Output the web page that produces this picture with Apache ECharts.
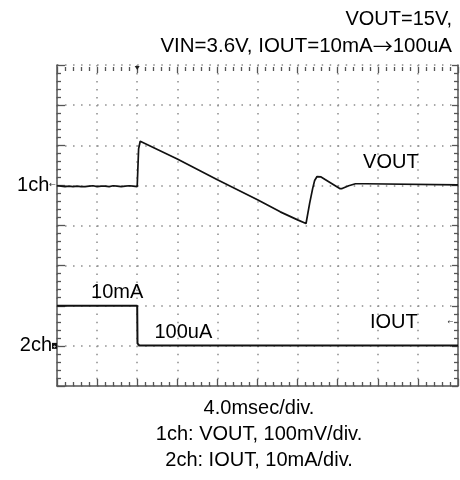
<!DOCTYPE html>
<html>
<head>
<meta charset="utf-8">
<script src="https://cdn.jsdelivr.net/npm/echarts@6/dist/echarts.min.js"></script>
<style>
  html, body { margin: 0; padding: 0; background: #ffffff; }
  #chart { width: 460px; height: 480px; }
</style>
</head>
<body>
<div id="chart"></div>
<script>
// Time axis: msec relative to the load step, 4.0 msec/div, 10 divisions
const timeMin = -8;
const timeMax = 32;
const timeStep = 4;

// 1ch: VOUT deviation from 15 V in mV, 100 mV/div (reference level = 0)
const voutMin = -500;
const voutMax = 300;
const voutStep = 100;

// 2ch: IOUT in mA, 10 mA/div (reference level = 0)
const ioutMin = -10;
const ioutMax = 70;
const ioutStep = 10;

// VOUT trace
const voutTime = [
  -8, -7.6, -7.2, -6.8, -6.4, -6, -5.6, -5.2, -4.8, -4.4, -4,
  -3.6, -3.2, -2.8, -2.4, -2, -1.6, -1.2, -0.8, -0.4, 0,
  0.14, 0.3, 0.44, 4, 8, 12, 14.27, 16, 16.84,
  17.2, 17.5, 17.7, 17.94, 18.34, 20.2, 20.44, 21.1, 21.77, 22.77, 22.94, 32
];
const voutMv = [
  -1, -2, -3, -2, -3, -2, -3, -3, -2, -1, -3,
  -2, -2, -3, -1, -2, -3, -2, -1, -2, -3,
  91, 110, 113, 66, 14, -36, -66, -86, -95,
  -45, -8, 12, 22, 21, -8, -8, -1, 4, 4, 2, 1
];

// IOUT trace: 10 mA load stepped down to 100 uA
const ioutTime = [-8, 0, 0.03, 0.2, 32];
const ioutMa = [10, 10, 0.6, 0.1, 0.1];

const titleLines = ['VOUT=15V,', 'VIN=3.6V, IOUT=10mA', '100uA'];
const footText = '4.0msec/div.\n1ch: VOUT, 100mV/div.\n2ch: IOUT, 10mA/div.';

const FONT = '"Liberation Sans", Arial, sans-serif';
const ARROW_FONT = '"DejaVu Sans", sans-serif';
const WIDE_ARROW_FONT = '"Noto Sans CJK JP", "DejaVu Sans", sans-serif';
const pair = (xs, ys) => xs.map((x, i) => [x, ys[i]]);

const dotted = { color: '#8c8c8c', width: 1.5, type: [1.5, 6.52] };
const border = { show: true, onZero: false, lineStyle: { color: '#555555', width: 1.5 } };
const noLine = { show: false, onZero: false };
const tickStyle = { color: '#555555', width: 1.3 };

function textPoint(text, coord) {
  return {
    coord: coord,
    symbol: 'rect',
    symbolSize: 0,
    label: {
      show: true, position: 'inside', formatter: text,
      fontSize: 20, color: '#000', fontFamily: FONT
    }
  };
}

const chart = echarts.init(document.getElementById('chart'), null, { renderer: 'canvas' });

chart.setOption({
  animation: false,
  backgroundColor: '#ffffff',
  title: [
    {
      text: '{n|' + titleLines[0] + '}\n{m|' + titleLines[1] + '}{r|\u2192}{m|' + titleLines[2] + '}',
      left: 447, top: 1, textAlign: 'right',
      textStyle: {
        fontSize: 20, fontWeight: 'normal', color: '#000', fontFamily: FONT,
        rich: {
          n: { fontSize: 20, lineHeight: 27, color: '#000', fontFamily: FONT },
          m: { fontSize: 20.5, lineHeight: 27, color: '#000', fontFamily: FONT },
          r: { fontSize: 20, lineHeight: 27, color: '#000', fontFamily: WIDE_ARROW_FONT }
        }
      }
    },
    {
      text: footText, left: 254, top: 390, textAlign: 'center',
      textStyle: { fontSize: 20, lineHeight: 26, fontWeight: 'normal', color: '#000', fontFamily: FONT }
    }
  ],
  grid: { left: 57, top: 65, width: 401, height: 321, containLabel: false },
  xAxis: [
    {
      type: 'value', position: 'bottom', min: timeMin, max: timeMax, interval: timeStep,
      axisLine: border,
      axisTick: { show: true, inside: true, length: 7, lineStyle: tickStyle },
      minorTick: { show: true, splitNumber: 5, length: 4, lineStyle: tickStyle },
      axisLabel: { show: false },
      splitLine: { show: true, lineStyle: dotted }
    },
    {
      type: 'value', position: 'top', offset: -2, min: timeMin, max: timeMax, interval: timeStep,
      axisLine: noLine,
      axisTick: { show: true, inside: true, length: 6, lineStyle: tickStyle },
      minorTick: { show: true, splitNumber: 5, length: 4, lineStyle: tickStyle },
      axisLabel: { show: false },
      splitLine: { show: false }
    }
  ],
  yAxis: [
    {
      type: 'value', position: 'left', min: voutMin, max: voutMax, interval: voutStep,
      axisLine: border,
      axisTick: { show: true, inside: true, length: 8, lineStyle: tickStyle },
      minorTick: { show: true, splitNumber: 5, length: 4, lineStyle: tickStyle },
      splitLine: { show: true, lineStyle: dotted },
      axisLabel: {
        show: true, margin: 1,
        formatter: v => (v === 0 ? '{t|1ch}{a|\u2190}' : ''),
        rich: {
          t: { fontSize: 20, color: '#000', fontFamily: FONT, verticalAlign: 'middle' },
          a: { fontSize: 8, color: '#333', fontFamily: ARROW_FONT, verticalAlign: 'middle' }
        }
      }
    },
    {
      type: 'value', position: 'left', min: ioutMin, max: ioutMax, interval: ioutStep,
      axisLine: noLine, axisTick: { show: false }, minorTick: { show: false },
      splitLine: { show: false },
      axisLabel: {
        show: true, margin: 0,
        formatter: v => (v === 0 ? '{t|2ch}{b|+}' : ''),
        rich: {
          t: { fontSize: 20, color: '#000', fontFamily: FONT, verticalAlign: 'middle' },
          b: {
            fontSize: 6, color: '#fff', backgroundColor: '#111', fontFamily: FONT,
            width: 5, height: 6, lineHeight: 6, align: 'center', verticalAlign: 'middle'
          }
        }
      }
    },
    {
      type: 'value', position: 'right', min: voutMin, max: voutMax, interval: voutStep,
      axisLine: border,
      axisTick: { show: true, inside: true, length: 6, lineStyle: tickStyle },
      minorTick: { show: true, splitNumber: 5, length: 4, lineStyle: tickStyle },
      splitLine: { show: false },
      axisLabel: { show: false }
    }
  ],
  series: [
    {
      name: 'VOUT', type: 'line', xAxisIndex: 0, yAxisIndex: 0,
      data: pair(voutTime, voutMv),
      showSymbol: false, symbol: 'none', smooth: false,
      lineStyle: { color: '#111', width: 1.7 },
      markPoint: {
        silent: true,
        data: [
          textPoint('VOUT', [25.3, 57]),
          {
            coord: [0, voutMax], symbol: 'triangle', symbolRotate: 180,
            symbolSize: [5, 4], symbolOffset: [0, 3],
            itemStyle: { color: '#222' }, label: { show: false }
          }
        ]
      }
    },
    {
      name: 'IOUT', type: 'line', xAxisIndex: 0, yAxisIndex: 1,
      data: pair(ioutTime, ioutMa),
      showSymbol: false, symbol: 'none', smooth: false,
      lineStyle: { color: '#111', width: 2 },
      markPoint: {
        silent: true,
        data: [
          textPoint('IOUT', [25.6, 5.9]),
          textPoint('10mA', [-2.0, 13.3]),
          textPoint('100uA', [4.6, 3.3]),
          {
            coord: [31.25, 5.8], symbol: 'rect', symbolSize: 0,
            label: { show: true, position: 'inside', formatter: '\u2190', fontSize: 7, color: '#333', fontFamily: ARROW_FONT }
          }
        ]
      }
    }
  ]
});
</script>
</body>
</html>
